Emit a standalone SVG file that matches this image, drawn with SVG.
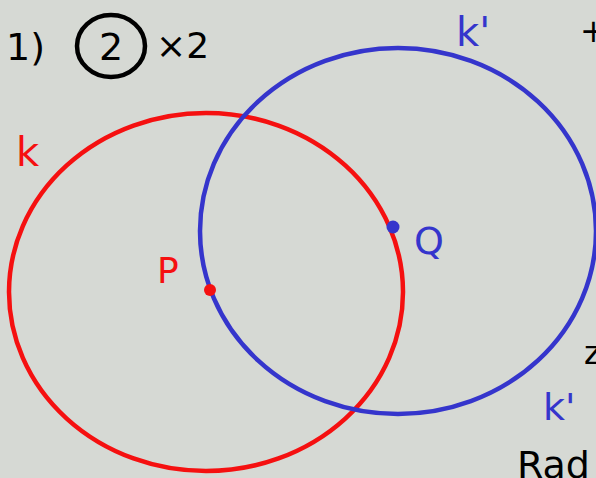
<svg xmlns="http://www.w3.org/2000/svg" width="596" height="478" viewBox="0 0 596 478">
<style>
.red{fill:none;stroke:#f51010;stroke-width:4.5}
.blue{fill:none;stroke:#3535cc;stroke-width:4.5}
.t{font-family:"DejaVu Sans","Liberation Sans",sans-serif}
.tr{fill:#f51010}
.tb{fill:#3535cc}
.tk{fill:#000}
</style>
<rect width="596" height="478" fill="#d6d9d4"/>
<g id="header">
<text class="t tk" x="6" y="60" font-size="38">1)</text>
<ellipse cx="111" cy="46" rx="34" ry="31" fill="none" stroke="#000" stroke-width="4.5"/>
<text class="t tk" x="111" y="60" font-size="38" text-anchor="middle">2</text>
<text class="t tk" x="156" y="58" font-size="36">×2</text>
</g>
<g id="circle-k">
<ellipse class="red" cx="206" cy="292" rx="197" ry="179"/>
<text class="t tr" x="16" y="166" font-size="40">k</text>
</g>
<g id="circle-k-prime">
<ellipse class="blue" cx="398" cy="231" rx="198" ry="183"/>
<text class="t tb" x="456" y="46" font-size="40">k'</text>
</g>
<g id="point-P">
<circle cx="210" cy="290" r="6" fill="#f51010"/>
<text class="t tr" x="157" y="283" font-size="36">P</text>
</g>
<g id="point-Q">
<circle cx="393" cy="227" r="6.5" fill="#3535cc"/>
<text class="t tb" x="414" y="254" font-size="38">Q</text>
</g>
<g id="edge-notes">
<text class="t tk" x="580" y="42" font-size="32">+</text>
<text class="t tk" x="584" y="364" font-size="32">z</text>
<text class="t tb" x="543" y="420" font-size="38">k'</text>
<text class="t tk" x="517" y="478" font-size="38">Rad</text>
</g>
</svg>
